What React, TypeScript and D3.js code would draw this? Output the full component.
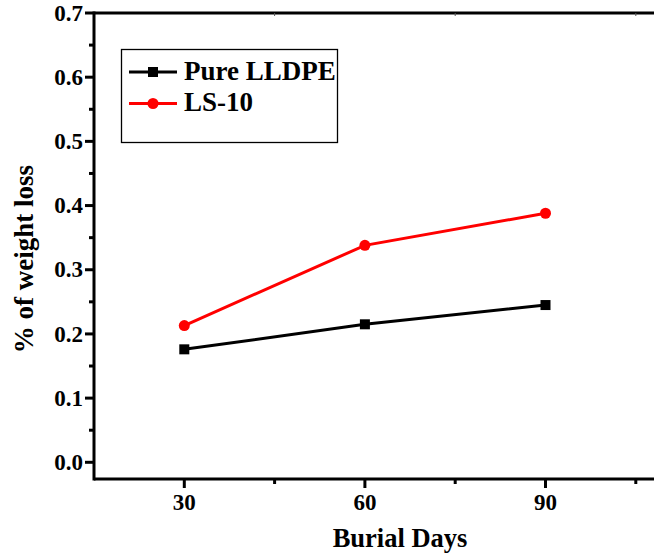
import * as React from 'react';
import * as d3 from 'd3';

const days = [30, 60, 90];
const pureLLDPE = [0.176, 0.215, 0.245];
const ls10 = [0.213, 0.338, 0.388];
const yTicks = [0.0, 0.1, 0.2, 0.3, 0.4, 0.5, 0.6, 0.7];
const xTicks = [30, 60, 90];

const W = 654;
const H = 557;
const plot = { left: 94, top: 13, right: 700, bottom: 479 };
const font = '"Liberation Serif", "Times New Roman", serif';

export default function App() {
  const ref = React.useRef<SVGSVGElement>(null);

  React.useEffect(() => {
    const svg = d3.select(ref.current);
    svg.selectAll('*').remove();

    const x = d3.scaleLinear().domain([15, 115]).range([plot.left, plot.left + 100 * 6.02]);
    const y = d3.scaleLinear().domain([0, 0.7]).range([462.3, plot.top]);

    const g = svg.append('g');

    // frame: top, bottom and left
    g.append('line').attr('x1', plot.left).attr('x2', plot.right).attr('y1', plot.top).attr('y2', plot.top)
      .attr('stroke', '#000').attr('stroke-width', 3);
    g.append('line').attr('x1', plot.left).attr('x2', plot.right).attr('y1', plot.bottom).attr('y2', plot.bottom)
      .attr('stroke', '#000').attr('stroke-width', 3);
    g.append('line').attr('x1', plot.left).attr('x2', plot.left).attr('y1', plot.top - 1.5).attr('y2', plot.bottom + 1.5)
      .attr('stroke', '#000').attr('stroke-width', 3);

    // y ticks
    yTicks.forEach(t => {
      g.append('line').attr('x1', plot.left - 9).attr('x2', plot.left).attr('y1', y(t)).attr('y2', y(t))
        .attr('stroke', '#000').attr('stroke-width', 3);
      g.append('text').attr('x', plot.left - 11).attr('y', y(t)).attr('dy', '0.33em')
        .attr('text-anchor', 'end').attr('font-family', font).attr('font-weight', 'bold')
        .attr('font-size', 23).text(t.toFixed(1));
    });
    d3.range(0.05, 0.7, 0.1).forEach(t => {
      g.append('line').attr('x1', plot.left - 5).attr('x2', plot.left).attr('y1', y(t)).attr('y2', y(t))
        .attr('stroke', '#000').attr('stroke-width', 3);
    });

    // x ticks
    [45, 75, 105].forEach(t => {
      g.append('line').attr('x1', x(t)).attr('x2', x(t)).attr('y1', plot.bottom).attr('y2', plot.bottom + 5)
        .attr('stroke', '#000').attr('stroke-width', 3);
      g.append('line').attr('x1', x(t)).attr('x2', x(t)).attr('y1', plot.top).attr('y2', plot.top + 3)
        .attr('stroke', '#555').attr('stroke-width', 1);
    });
    xTicks.forEach(t => {
      g.append('line').attr('x1', x(t)).attr('x2', x(t)).attr('y1', plot.bottom).attr('y2', plot.bottom + 9)
        .attr('stroke', '#000').attr('stroke-width', 3);
      g.append('text').attr('x', x(t)).attr('y', plot.bottom + 31)
        .attr('text-anchor', 'middle').attr('font-family', font).attr('font-weight', 'bold')
        .attr('font-size', 23).text(t);
    });

    // axis titles
    g.append('text').attr('x', 400).attr('y', 547).attr('text-anchor', 'middle')
      .attr('font-family', font).attr('font-weight', 'bold').attr('font-size', 26.5).text('Burial Days');
    g.append('text').attr('transform', `translate(33,259) rotate(-90)`).attr('text-anchor', 'middle')
      .attr('font-family', font).attr('font-weight', 'bold').attr('font-size', 27).text('% of weight loss');

    const line = d3.line<number>().x((_, i) => x(days[i])).y(d => y(d));

    g.append('path').datum(pureLLDPE).attr('d', line).attr('fill', 'none')
      .attr('stroke', '#000').attr('stroke-width', 3);
    g.selectAll('.sq').data(pureLLDPE).enter().append('rect')
      .attr('x', (_, i) => x(days[i]) - 5).attr('y', d => y(d) - 5)
      .attr('width', 10).attr('height', 10).attr('fill', '#000');

    g.append('path').datum(ls10).attr('d', line).attr('fill', 'none')
      .attr('stroke', '#ff0000').attr('stroke-width', 3);
    g.selectAll('.ci').data(ls10).enter().append('circle')
      .attr('cx', (_, i) => x(days[i])).attr('cy', d => y(d)).attr('r', 5.5).attr('fill', '#ff0000');

    // legend
    const lg = g.append('g');
    lg.append('rect').attr('x', 121.5).attr('y', 49.5).attr('width', 216).attr('height', 93)
      .attr('fill', '#fff').attr('stroke', '#000').attr('stroke-width', 1.3);
    lg.append('line').attr('x1', 129).attr('x2', 177).attr('y1', 72).attr('y2', 72)
      .attr('stroke', '#000').attr('stroke-width', 3);
    lg.append('rect').attr('x', 148).attr('y', 67).attr('width', 10).attr('height', 10).attr('fill', '#000');
    lg.append('text').attr('x', 184).attr('y', 79.5).attr('font-family', font)
      .attr('font-weight', 'bold').attr('font-size', 27).text('Pure LLDPE');
    lg.append('line').attr('x1', 129).attr('x2', 177).attr('y1', 103.5).attr('y2', 103.5)
      .attr('stroke', '#ff0000').attr('stroke-width', 3);
    lg.append('circle').attr('cx', 153).attr('cy', 103.5).attr('r', 5.5).attr('fill', '#ff0000');
    lg.append('text').attr('x', 184).attr('y', 111).attr('font-family', font)
      .attr('font-weight', 'bold').attr('font-size', 27).text('LS-10');
  }, []);

  return (
    <svg ref={ref} width={W} height={H}
      style={{ position: 'absolute', left: 0, top: 0, background: '#fff' }} />
  );
}
